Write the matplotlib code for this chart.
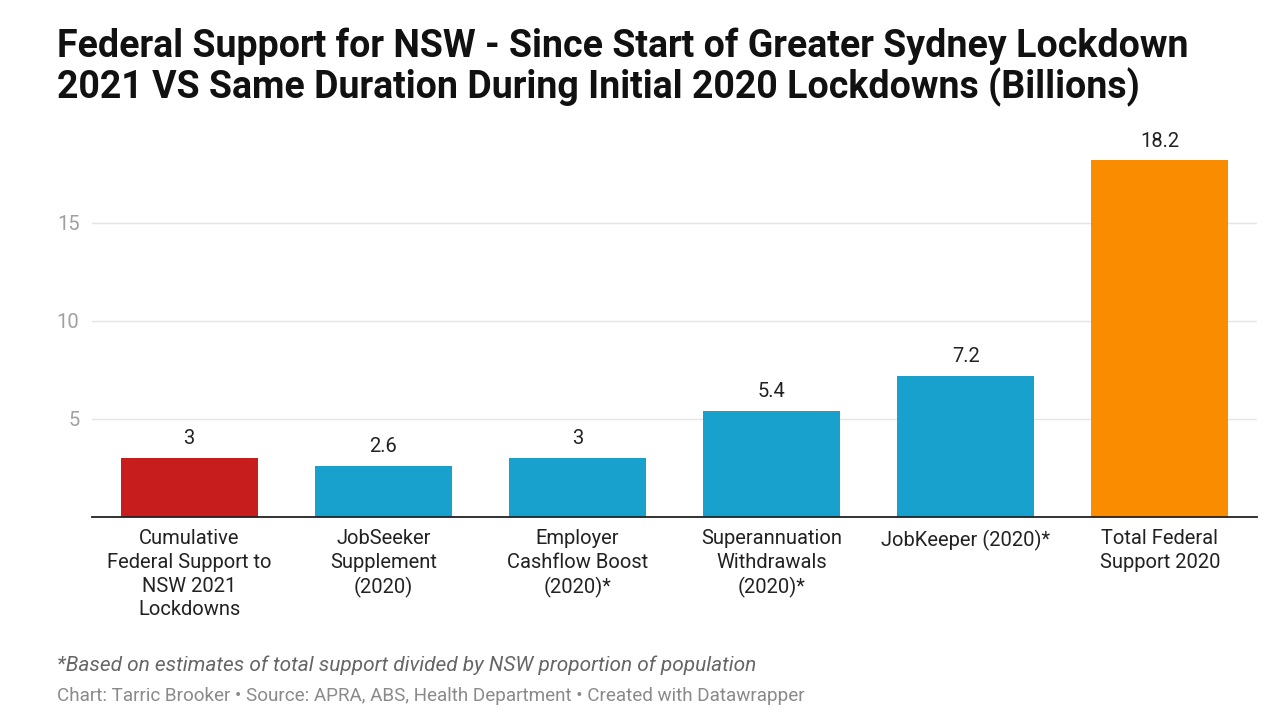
import matplotlib.pyplot as plt

categories = [
    "Cumulative\nFederal Support to\nNSW 2021\nLockdowns",
    "JobSeeker\nSupplement\n(2020)",
    "Employer\nCashflow Boost\n(2020)*",
    "Superannuation\nWithdrawals\n(2020)*",
    "JobKeeper (2020)*",
    "Total Federal\nSupport 2020",
]
values = [3, 2.6, 3, 5.4, 7.2, 18.2]
value_labels = ["3", "2.6", "3", "5.4", "7.2", "18.2"]
colors = ["#c71e1d", "#18a1cd", "#18a1cd", "#18a1cd", "#18a1cd", "#fa8c00"]
yticks = [5, 10, 15]

plt.rcParams['font.family'] = ['Roboto', 'DejaVu Sans']

fig = plt.figure(figsize=(12.8, 7.2), dpi=100)
ax = fig.add_axes([92 / 1280, 1 - 517 / 720, (1257 - 92) / 1280, (517 - 130) / 720])

x = range(len(values))
bars = ax.bar(x, values, width=0.705, color=colors, zorder=2)
for i, v in enumerate(values):
    ax.annotate(value_labels[i], (i, v), xytext=(0, 7), textcoords='offset points',
                ha='center', va='bottom', fontsize=14.5, color='#222222')

ax.set_xlim(-0.5, len(values) - 0.5)
ax.set_ylim(0, (517 - 130) / 19.6)
ax.set_yticks(yticks)
ax.set_yticklabels([str(t) for t in yticks], fontsize=14.5, color='#a0a0a0')
ax.grid(axis='y', color='#e4e4e4', linewidth=1, zorder=0)
ax.tick_params(axis='y', length=0, pad=9)
ax.set_xticks(list(x))
ax.set_xticklabels(categories, fontsize=14.5, color='#222222', va='top', linespacing=1.3)
ax.tick_params(axis='x', length=0, pad=9)
for s in ['top', 'right', 'left']:
    ax.spines[s].set_visible(False)
ax.spines['bottom'].set_color('#222222')
ax.spines['bottom'].set_linewidth(1.3)
ax.spines['bottom'].set_zorder(3)

fig.text(57 / 1280, 1 - 28 / 720,
         "Federal Support for NSW - Since Start of Greater Sydney Lockdown\n"
         "2021 VS Same Duration During Initial 2020 Lockdowns (Billions)",
         fontsize=27, fontweight='bold', color='#111111', va='top', ha='left',
         linespacing=1.08)

fig.text(57 / 1280, 1 - 665 / 720,
         "*Based on estimates of total support divided by NSW proportion of population",
         fontsize=15, fontstyle='italic', color='#666666', va='center', ha='left')
fig.text(57 / 1280, 1 - 696 / 720,
         "Chart: Tarric Brooker \u2022 Source: APRA, ABS, Health Department \u2022 Created with Datawrapper",
         fontsize=13.6, color='#8a8a8a', va='center', ha='left')

fig.savefig("out.png", dpi=100, facecolor='white')
